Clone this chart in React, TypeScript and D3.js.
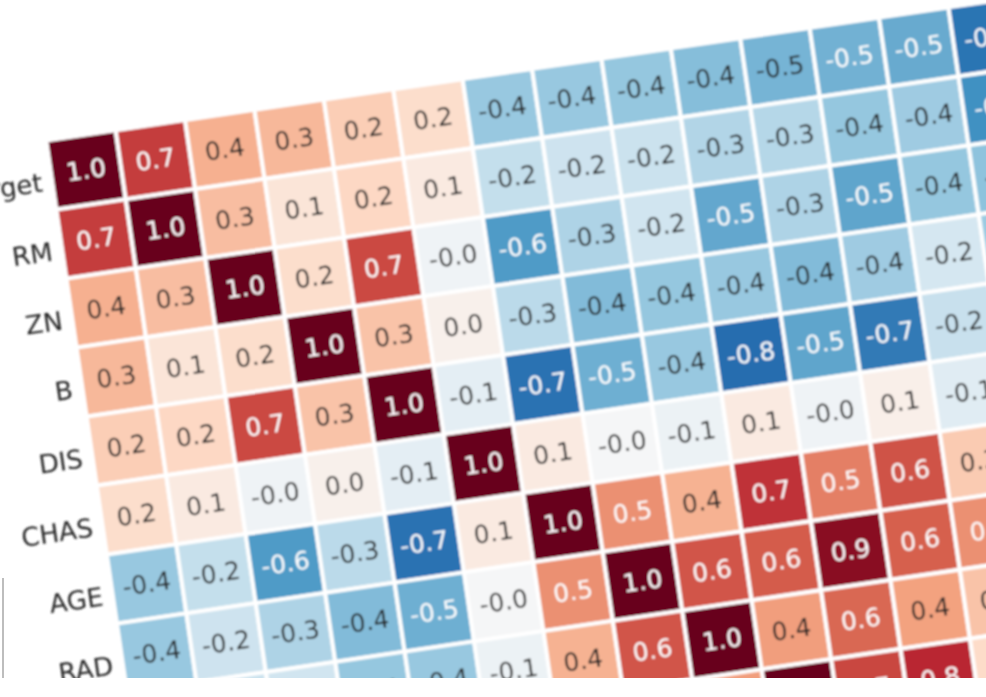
import React, { useEffect, useRef } from 'react';
import * as d3 from 'd3';

// Boston housing correlation matrix (seaborn heatmap, photographed at an angle)
const labels = ['target', 'RM', 'ZN', 'B', 'DIS', 'CHAS', 'AGE', 'RAD', 'CRIM', 'NOX', 'TAX', 'INDUS', 'PTRATIO', 'LSTAT'];

const corr: number[][] = [
  [1.0, 0.7, 0.36, 0.33, 0.249, 0.18, -0.38, -0.38, -0.39, -0.43, -0.47, -0.48, -0.51, -0.74],
  [0.7, 1.0, 0.31, 0.13, 0.21, 0.09, -0.24, -0.21, -0.22, -0.3, -0.29, -0.39, -0.36, -0.61],
  [0.36, 0.31, 1.0, 0.18, 0.66, -0.04, -0.57, -0.31, -0.2, -0.52, -0.31, -0.53, -0.39, -0.41],
  [0.33, 0.13, 0.18, 1.0, 0.29, 0.049, -0.27, -0.44, -0.39, -0.38, -0.44, -0.36, -0.18, -0.37],
  [0.249, 0.21, 0.66, 0.29, 1.0, -0.1, -0.748, -0.49, -0.38, -0.77, -0.53, -0.71, -0.23, -0.5],
  [0.18, 0.09, -0.04, 0.049, -0.1, 1.0, 0.09, -0.01, -0.06, 0.09, -0.04, 0.06, -0.12, -0.054],
  [-0.38, -0.24, -0.57, -0.27, -0.748, 0.09, 1.0, 0.46, 0.353, 0.73, 0.51, 0.64, 0.26, 0.6],
  [-0.38, -0.21, -0.31, -0.44, -0.49, -0.01, 0.46, 1.0, 0.63, 0.61, 0.91, 0.6, 0.46, 0.49],
  [-0.39, -0.22, -0.2, -0.39, -0.38, -0.06, 0.353, 0.63, 1.0, 0.42, 0.58, 0.41, 0.29, 0.46],
  [-0.43, -0.3, -0.52, -0.38, -0.77, 0.09, 0.73, 0.61, 0.42, 1.0, 0.67, 0.76, 0.19, 0.59],
  [-0.47, -0.29, -0.31, -0.44, -0.53, -0.04, 0.51, 0.91, 0.58, 0.67, 1.0, 0.72, 0.46, 0.54],
  [-0.48, -0.39, -0.53, -0.36, -0.71, 0.06, 0.64, 0.6, 0.41, 0.76, 0.72, 1.0, 0.38, 0.6],
  [-0.51, -0.36, -0.39, -0.18, -0.23, -0.12, 0.26, 0.46, 0.29, 0.19, 0.46, 0.38, 1.0, 0.37],
  [-0.74, -0.61, -0.41, -0.37, -0.5, -0.054, 0.6, 0.49, 0.46, 0.59, 0.54, 0.6, 0.37, 1.0],
];

// RdBu_r (matplotlib), from -1 to 1
const palette = ['#053061', '#2166ac', '#4393c3', '#92c5de', '#d1e5f0', '#f7f7f7', '#fddbc7', '#f4a582', '#d6604d', '#b2182b', '#67001f'];

const luminance = (c: string) => {
  const rgb = d3.rgb(c);
  const lin = (v: number) => {
    const s = v / 255;
    return s <= 0.03928 ? s / 12.92 : Math.pow((s + 0.055) / 1.055, 2.4);
  };
  return 0.2126 * lin(rgb.r) + 0.7152 * lin(rgb.g) + 0.0722 * lin(rgb.b);
};

const App: React.FC = () => {
  const svgRef = useRef<SVGSVGElement>(null);

  useEffect(() => {
    if (!svgRef.current) return;
    const width = 986;
    const height = 697;
    const photoBottom = 678;
    const cell = 70;

    const svg = d3.select(svgRef.current);
    svg.selectAll('*').remove();
    svg.append('rect').attr('width', width).attr('height', height).attr('fill', '#ffffff');

    const defs = svg.append('defs');
    defs.append('clipPath').attr('id', 'photo')
      .append('rect').attr('x', 0).attr('y', 0).attr('width', width).attr('height', photoBottom);
    defs.append('filter').attr('id', 'soft')
      .attr('x', '-5%').attr('y', '-5%').attr('width', '110%').attr('height', '110%')
      .append('feGaussianBlur').attr('stdDeviation', 0.9);

    const xScale = d3.scaleBand().domain(labels).range([0, cell * labels.length]);
    const yScale = d3.scaleBand().domain(labels).range([0, cell * labels.length]);
    const bw = xScale.bandwidth();

    const color = d3.scaleLinear<string>()
      .domain(d3.range(palette.length).map(i => -1 + (2 * i) / (palette.length - 1)))
      .range(palette)
      .interpolate(d3.interpolateRgb)
      .clamp(true);

    const cells = labels.flatMap((row, i) => labels.map((col, j) => ({ row, col, v: corr[i][j] })));

    // the photo is tilted: columns run up to the right, rows lean slightly right
    const g = svg.append('g').attr('clip-path', 'url(#photo)')
      .append('g').attr('filter', 'url(#soft)')
      .append('g').attr('transform', 'matrix(0.9914,-0.1464,0.1443,0.9857,46.25,140.6)');

    g.selectAll('.cell')
      .data(cells)
      .enter()
      .append('rect')
      .attr('class', 'cell')
      .attr('x', d => xScale(d.col) || 0)
      .attr('y', d => yScale(d.row) || 0)
      .attr('width', bw)
      .attr('height', yScale.bandwidth())
      .attr('fill', d => color(d.v))
      .attr('stroke', '#ffffff')
      .attr('stroke-width', 4);

    g.selectAll('.annot')
      .data(cells)
      .enter()
      .append('text')
      .attr('class', 'annot')
      .attr('x', d => (xScale(d.col) || 0) + bw / 2)
      .attr('y', d => (yScale(d.row) || 0) + bw / 2)
      .attr('text-anchor', 'middle')
      .attr('dominant-baseline', 'central')
      .attr('font-family', 'DejaVu Sans')
      .attr('font-size', '25px')
      .attr('fill', d => (luminance(color(d.v)) > 0.408 ? '#262626' : '#ffffff'))
      .text(d => d.v.toFixed(1));

    g.selectAll('.rowLabel')
      .data(labels)
      .enter()
      .append('text')
      .attr('class', 'rowLabel')
      .attr('x', -10)
      .attr('y', d => (yScale(d) || 0) + bw / 2 + 6)
      .attr('text-anchor', 'end')
      .attr('dominant-baseline', 'central')
      .attr('font-family', 'DejaVu Sans')
      .attr('font-size', '26px')
      .attr('fill', '#262626')
      .text(d => d);

    // edge of the sheet at bottom left
    svg.append('line')
      .attr('x1', 3).attr('x2', 3)
      .attr('y1', 578).attr('y2', photoBottom)
      .attr('stroke', '#bdbdbd')
      .attr('stroke-width', 2);
  }, []);

  return (
    <svg
      ref={svgRef}
      width={986}
      height={697}
      style={{ position: 'absolute', left: 0, top: 0, display: 'block' }}
    />
  );
};

export default App;
